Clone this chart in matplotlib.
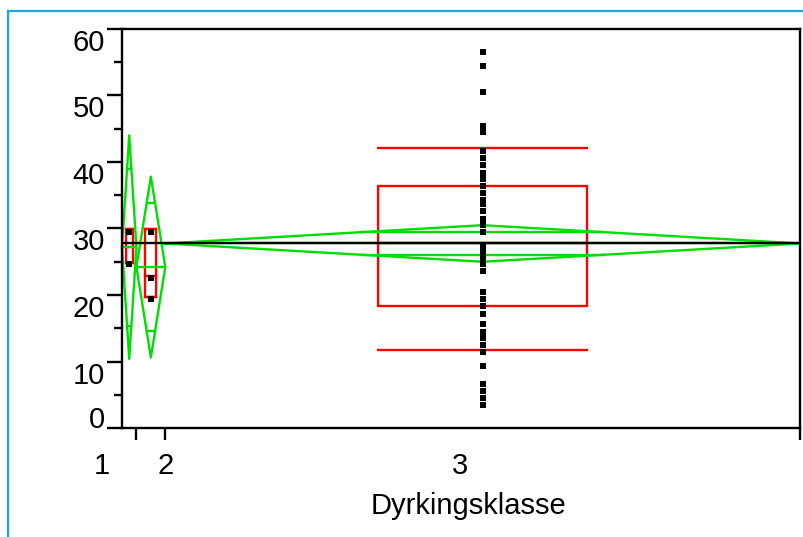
import matplotlib.pyplot as plt
import matplotlib.transforms as mtransforms
from matplotlib.lines import Line2D
from matplotlib.patches import Rectangle
import numpy as np

plt.rcParams['font.family'] = ['Liberation Sans', 'DejaVu Sans']

# Oneway analysis: Dyrkingsklasse groups
groups = ['1', '2', '3']
group_n = [2, 4, 88]
group_means = [27.2, 24.2, 27.75]
ci_half = [16.8, 13.6, 2.75]
overlap_half = [11.8, 9.65, 1.7]
q1 = [24.8, 19.7, 18.4]
medians = [27.2, 22.9, 27.8]
q3 = [29.9, 29.9, 36.4]
whisk_lo = [24.8, 19.7, 11.7]
whisk_hi = [29.9, 29.9, 42.1]
grand_mean = 27.8

points_1 = [29.4, 24.6]
points_2 = [29.4, 22.5, 19.4]
points_3 = [56.5, 54.5, 50.6, 45.4, 44.5, 41.7, 40.6, 39.5, 38.4, 37.4,
            36.4, 35.3, 34.3, 33.7, 32.6, 31.5, 30.5, 29.4, 27.4, 26.4,
            25.5, 24.6, 23.6, 20.4, 19.4, 18.3, 17.2, 15.6, 14.5, 13.5,
            12.5, 11.4, 9.3, 6.6, 5.5, 4.5, 3.4]
group_points = [points_1, points_2, points_3]

# layout bits
box_frac = [0.46, 0.38, 0.33]
label_pos = [-2.8, 6.0, 46.9]

RED = '#ff0000'
GREEN = '#00dd00'
LW = 1.7
FS = 21

fig = plt.figure(figsize=(8.04, 5.37), dpi=100)
ax = fig.add_axes([122 / 804, 109 / 537, 678 / 804, 399 / 537])

edges = np.concatenate([[0], np.cumsum(group_n)])
centers = (edges[:-1] + edges[1:]) / 2

for i in range(len(groups)):
    left, right, c = edges[i], edges[i + 1], centers[i]
    hw = (right - left) / 2
    bw = box_frac[i] * hw
    m = group_means[i]

    # box plot
    ax.add_patch(Rectangle((c - bw, q1[i]), 2 * bw, q3[i] - q1[i],
                           fill=False, ec=RED, lw=LW))
    ax.plot([c - bw, c + bw], [medians[i]] * 2, color=RED, lw=LW)
    ax.plot([c - bw, c + bw], [whisk_lo[i]] * 2, color=RED, lw=LW)
    ax.plot([c - bw, c + bw], [whisk_hi[i]] * 2, color=RED, lw=LW)

    # means diamond
    ax.plot([left, c, right, c, left],
            [m, m + ci_half[i], m, m - ci_half[i], m],
            color=GREEN, lw=LW, clip_on=False)
    ax.plot([left, right], [m, m], color=GREEN, lw=LW)
    ext = hw * (1 - overlap_half[i] / ci_half[i])
    ax.plot([c - ext, c + ext], [m + overlap_half[i]] * 2, color=GREEN, lw=LW)
    ax.plot([c - ext, c + ext], [m - overlap_half[i]] * 2, color=GREEN, lw=LW)

ax.axhline(grand_mean, color='black', lw=LW)

for i, pts in enumerate(group_points):
    ax.plot([centers[i]] * len(pts), pts, ls='none', marker='s',
            ms=4.0, mew=0, color='black', zorder=5)

ax.set_xlim(0, edges[-1])
ax.set_ylim(0, 60)

for sp in ax.spines.values():
    sp.set_linewidth(LW)
    sp.set_color('black')

ax.set_yticks(range(0, 61, 10))
ax.set_yticks(range(5, 60, 10), minor=True)
ax.tick_params(axis='y', which='major', length=10.8, width=LW,
               labelsize=FS, pad=1.5)
ax.tick_params(axis='y', which='minor', length=5.8, width=LW)
for lab in ax.get_yticklabels():
    if lab.get_text() == '0':
        lab.set_va('baseline')
    else:
        lab.set_va('top')

ax.set_xticks(edges[1:])
ax.tick_params(axis='x', length=8.6, width=LW, labelbottom=False)

trans = mtransforms.blended_transform_factory(ax.transData, fig.transFigure)
for g, xp in zip(groups, label_pos):
    ax.text(xp, 1 - 474 / 537, g, transform=trans, ha='center',
            va='baseline', fontsize=FS, clip_on=False)

fig.text(469 / 804, 1 - 514 / 537, 'Dyrkingsklasse', ha='center',
         va='baseline', fontsize=FS)

# blue frame around the report panel
frame_c = '#1aa7e6'
fig.add_artist(Line2D([8.3 / 804, 8.3 / 804], [0, 1 - 11 / 537],
                      color=frame_c, lw=1.6))
fig.add_artist(Line2D([8.3 / 804, 1], [1 - 11 / 537, 1 - 11 / 537],
                      color=frame_c, lw=1.6))

fig.savefig('out.png', dpi=100)
